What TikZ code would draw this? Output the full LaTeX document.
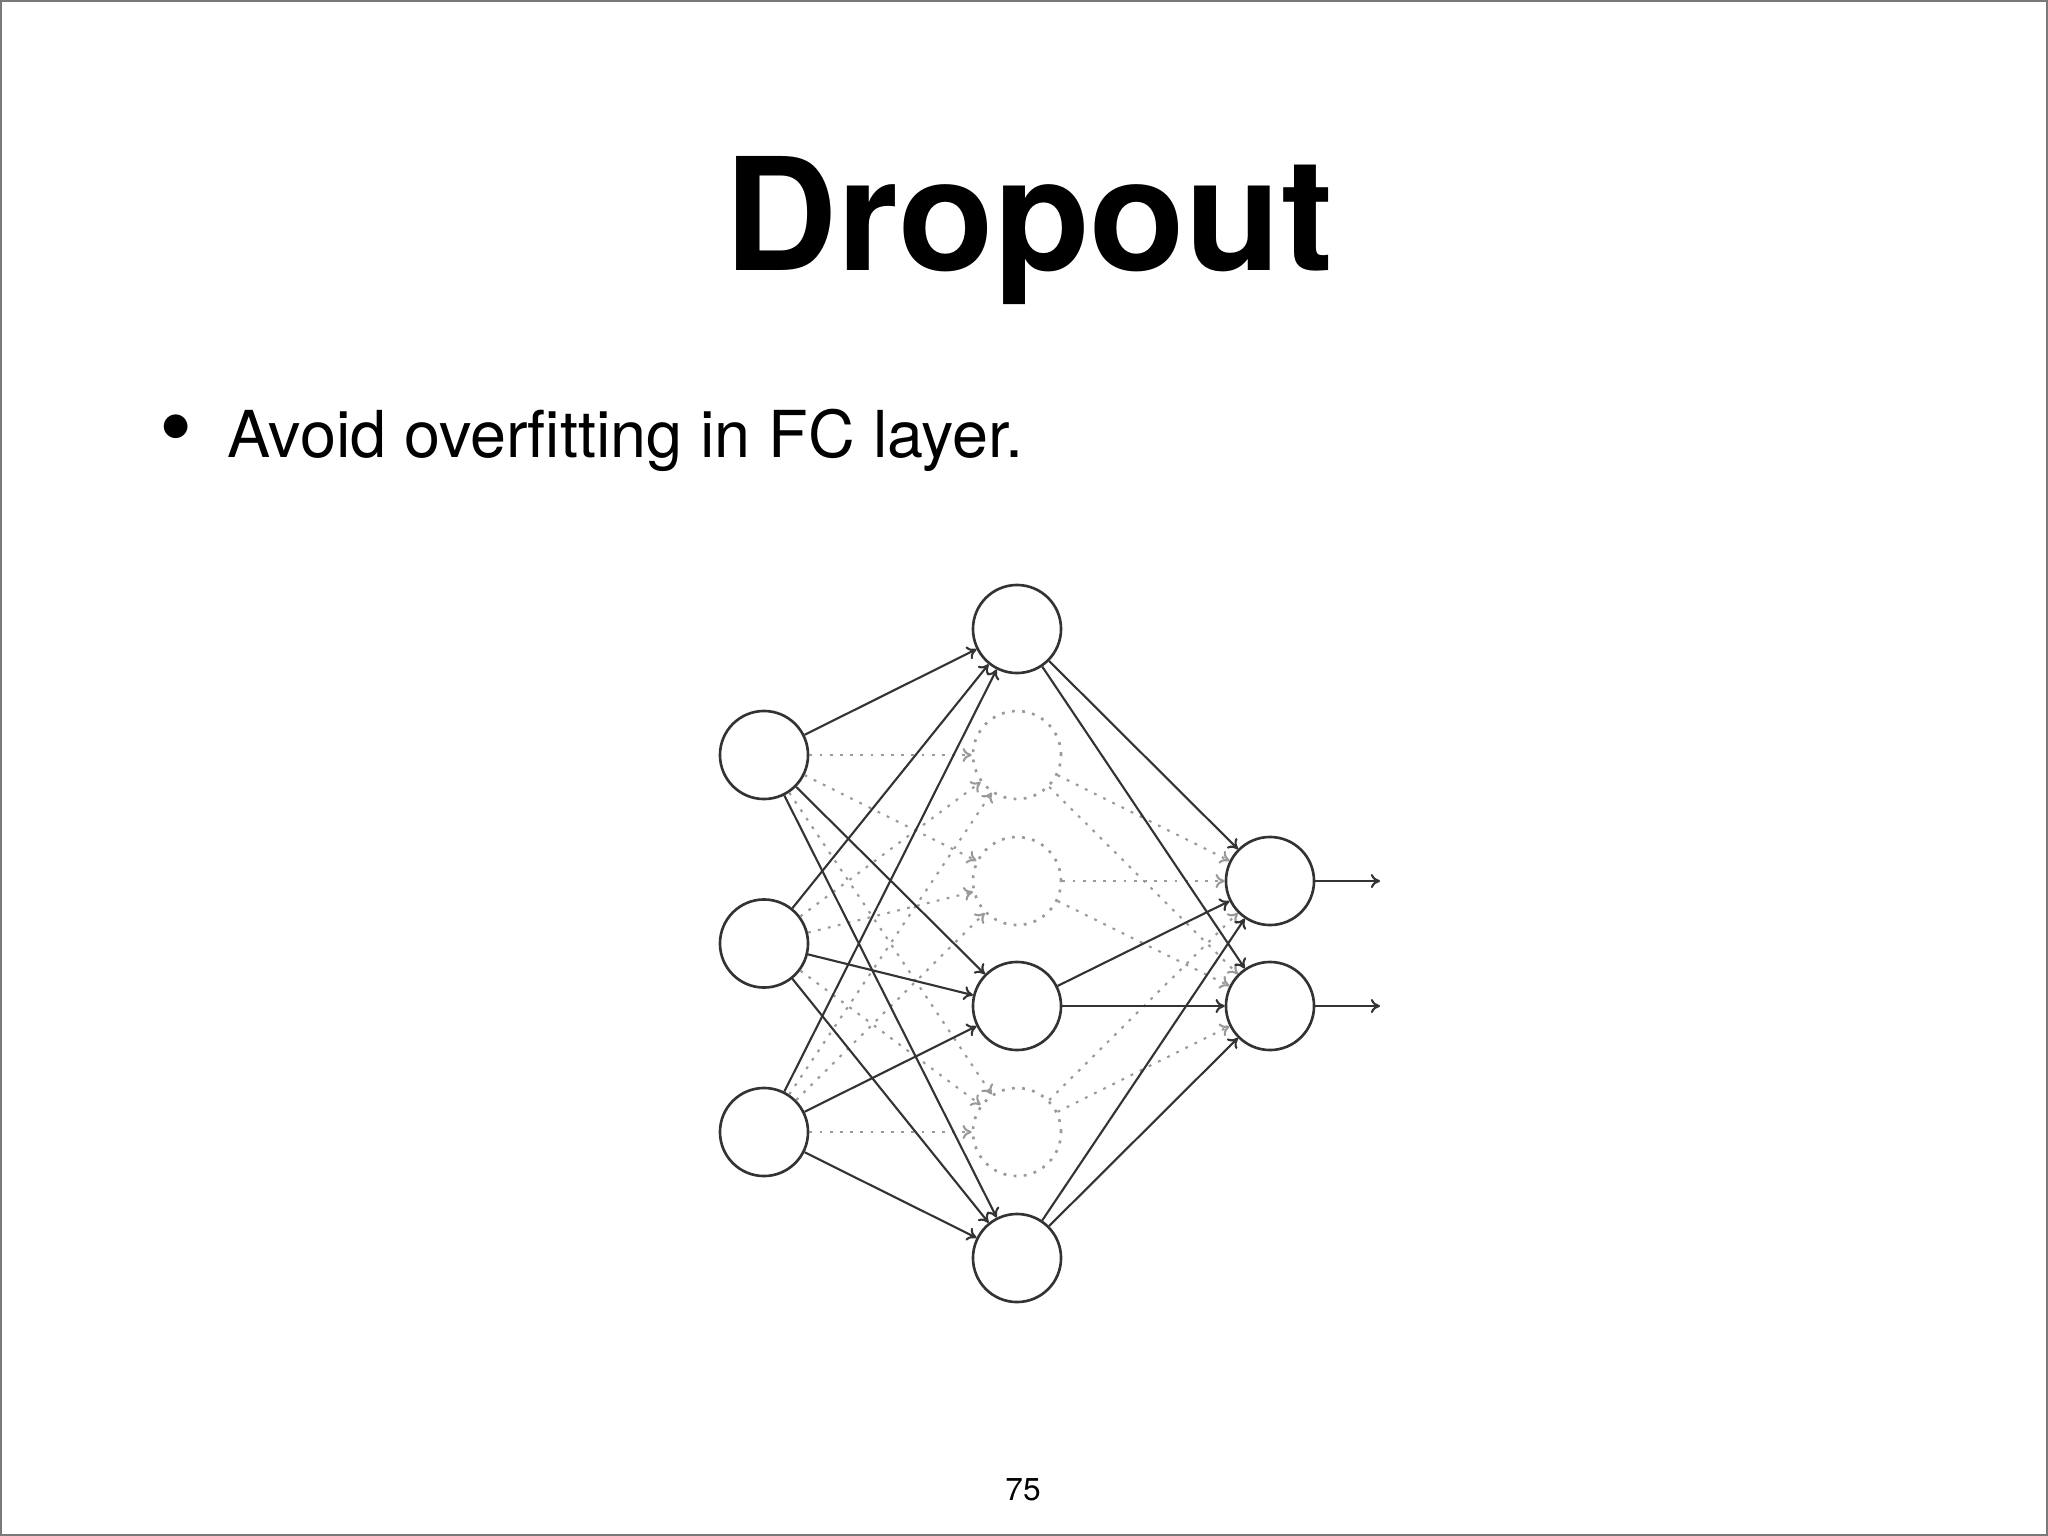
\documentclass[tikz,border=0pt]{standalone}
\usepackage{fontspec}
\setmainfont{TeX Gyre Heros}
\usepackage{xcolor}
\usepackage{tikz}
\usetikzlibrary{arrows.meta}
\definecolor{wire}{HTML}{333333}
\definecolor{ghost}{HTML}{9A9A9A}
\definecolor{frame}{HTML}{7A7A7A}
\tikzset{fig/.style={line join=round,>={To[length=2.6pt,width=4pt]}},
  unit/.style={circle,draw=wire,line width=0.75pt,minimum size=0.88cm,inner sep=0pt},
  dropunit/.style={unit,draw=ghost,dash pattern=on 0.8pt off 2.1pt},
  link/.style={wire,line width=0.6pt,->},
  droplink/.style={ghost,line width=0.6pt,dash pattern=on 0.8pt off 2.1pt,->}}

\begin{document}
\begin{tikzpicture}[fig,x=0.01cm,y=-0.01cm]
  \useasboundingbox(0,0)rectangle(2048,1536);
  \draw[frame,line width=1.2pt](0,0)rectangle(2048,1536);
  \node[anchor=base,inner sep=0,font=\fontsize{44.5}{50}\selectfont\bfseries](title)at(1029,270){Dropout};
  \node[anchor=base,inner sep=0,font=\fontsize{27}{30}\selectfont](dot)at(176,459){\textbullet};
  \node[anchor=base west,inner sep=0,font=\fontsize{18.4}{22}\selectfont](point)at(227,457){Avoid overfitting in FC layer.};
  \node[anchor=base,inner sep=0,font=\fontsize{9}{11}\selectfont](page)at(1023,1500){75};
  % units
  \foreach \k/\y in {1/755,2/943.5,3/1132}\node[unit](i\k)at(764,\y){};
  \foreach \k/\y/\s in {1/629/unit,2/755/dropunit,3/881/dropunit,4/1006/unit,5/1132/dropunit,6/1258/unit}
    \node[\s](h\k)at(1017,\y){};
  \foreach \k/\y in {1/881,2/1006}{\node[unit](o\k)at(1270,\y){};\coordinate(e\k)at(1380,\y);}
  % links, dropped ones first
  \foreach \k/\s in {2/droplink,3/droplink,5/droplink,1/link,4/link,6/link}{
    \foreach \j in {1,2,3}\draw[\s](i\j)--(h\k);
    \foreach \j in {1,2}\draw[\s](h\k)--(o\j);}
  \foreach \j in {1,2}\draw[link](o\j)--(e\j);
\end{tikzpicture}
\end{document}
